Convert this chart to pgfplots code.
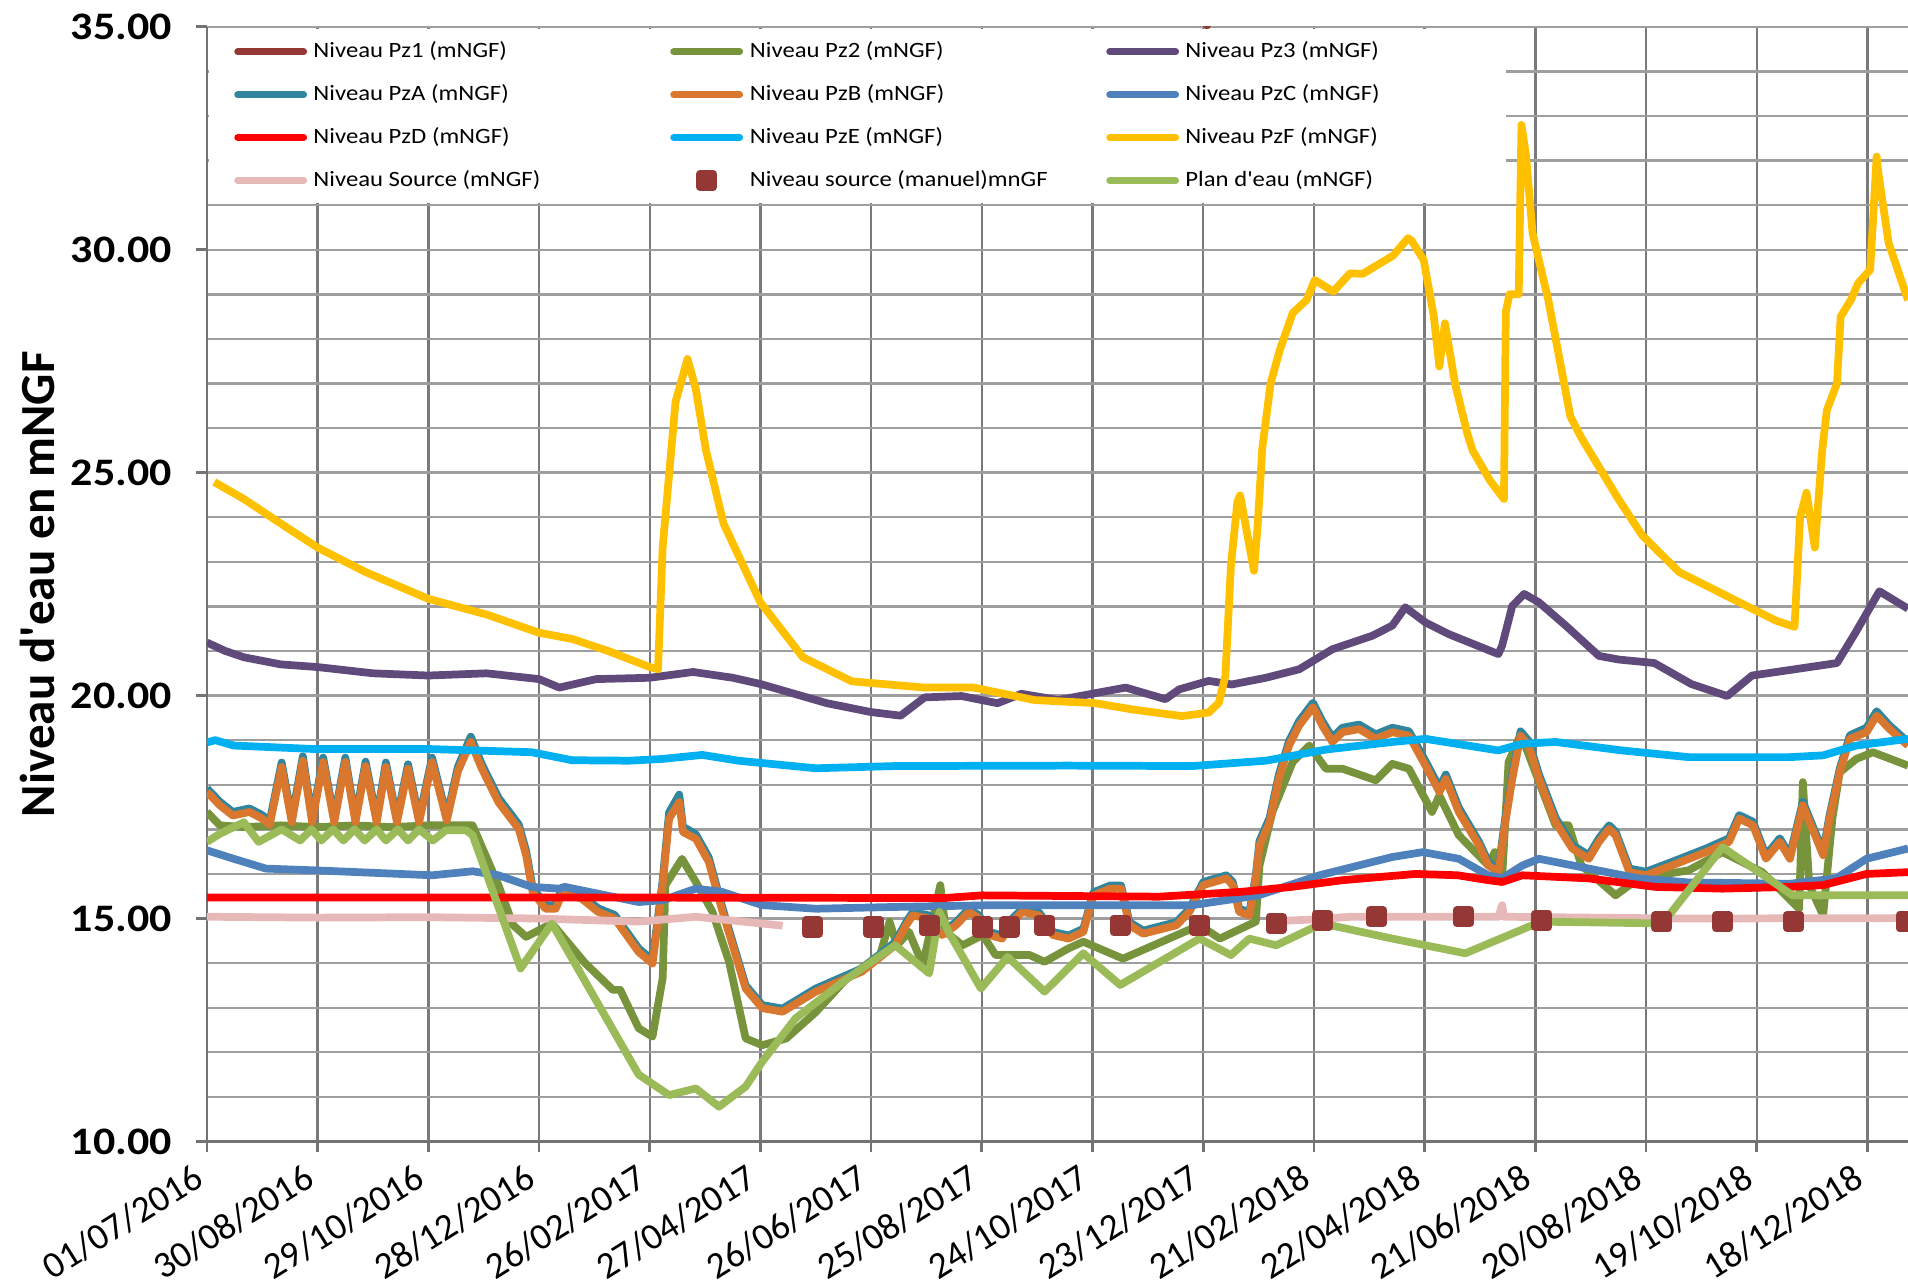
\documentclass[border=0pt]{standalone}
\usepackage{pgfplots}
\pgfplotsset{compat=1.18}
\usepackage{pgfplotstable}
\usepackage{fontspec}
\setmainfont{Carlito}[FakeStretch=1.13, Ligatures=TeXOff]
\newfontfamily\plainfont{Carlito}[Ligatures=TeXOff]
\definecolor{cPzI}{HTML}{953735}
\definecolor{cPzII}{HTML}{77933C}
\definecolor{cPzIII}{HTML}{604A7B}
\definecolor{cPzA}{HTML}{31859C}
\definecolor{cPzB}{HTML}{D9772F}
\definecolor{cPzC}{HTML}{4F81BD}
\definecolor{cPzD}{HTML}{FF0000}
\definecolor{cPzE}{HTML}{00B0F0}
\definecolor{cPzF}{HTML}{FFC000}
\definecolor{cSrc}{HTML}{E6B9B8}
\definecolor{cMan}{HTML}{953735}
\definecolor{cPlan}{HTML}{9BBB59}

\pgfplotstableread{
d A B
0 17.92 17.84
7 17.62 17.54
14 17.39 17.31
23 17.47 17.39
30 17.32 17.24
34 17.18 17.10
40.5 18.50 18.40
46 17.24 17.16
52 18.64 18.54
57 17.24 17.16
63 18.61 18.51
69 17.24 17.16
75 18.61 18.51
80.5 17.24 17.16
86 18.52 18.42
92 17.24 17.16
97 18.50 18.40
103 17.24 17.16
109 18.46 18.36
115 17.24 17.16
122 18.61 18.51
130 17.28 17.20
136 18.40 18.30
143 19.08 18.96
149 18.46 18.36
158 17.71 17.61
169 17.11 17.01
173 16.52 16.42
176.5 15.70 15.60
183.5 15.30 15.22
189 15.30 15.22
192.5 15.68 15.55
203 15.53 15.45
212 15.23 15.15
221 15.08 15.00
234 14.33 14.25
241.5 14.07 13.99
247 15.85 15.75
250.5 17.38 17.24
256 17.78 17.61
258 17.06 16.94
265 16.89 16.79
272 16.37 16.27
279.5 15.23 15.15
292 13.50 13.43
301 13.06 12.99
312 12.98 12.91
330 13.43 13.36
355 13.88 13.81
373 14.47 14.40
379 14.92 14.85
382.5 15.14 15.07
391.5 15.07 15.00
398.5 14.70 14.63
406 14.92 14.85
413 15.22 15.15
418.5 15.07 15.00
424 14.70 14.63
431 14.62 14.55
436.5 15.00 14.93
442 15.22 15.15
451 15.14 15.07
458.5 14.70 14.63
467 14.62 14.55
475 14.77 14.70
480.5 15.59 15.52
489.5 15.74 15.67
495.5 15.74 15.67
500 14.92 14.85
507.5 14.73 14.66
525.5 14.92 14.85
532.5 15.22 15.15
540 15.82 15.75
552.5 15.97 15.90
556 15.82 15.75
559.5 15.22 15.15
565 15.14 15.07
568.5 15.97 15.90
570.5 16.74 16.64
576 17.26 17.16
581 18.23 18.13
586.5 18.98 18.88
592 19.43 19.33
599.5 19.84 19.74
604.5 19.43 19.33
610 19.06 18.96
615.5 19.28 19.18
624.5 19.35 19.25
633.5 19.13 19.03
642.5 19.28 19.18
651.5 19.20 19.10
660.5 18.53 18.43
668 17.94 17.84
671.5 18.23 18.13
678.5 17.49 17.39
689.5 16.72 16.64
694.5 16.27 16.19
700 16.11 16.04
703.5 17.19 17.09
707.5 18.23 18.13
712 19.20 19.10
716.5 18.98 18.88
722 18.23 18.13
731 17.26 17.16
740 16.65 16.57
749 16.42 16.34
754.5 16.80 16.72
760 17.09 17.01
763.5 16.95 16.87
771 16.12 16.04
780 16.05 15.97
794 16.27 16.19
812.5 16.57 16.49
825 16.80 16.72
830.5 17.32 17.24
838 17.17 17.09
845 16.42 16.34
852.5 16.80 16.72
858 16.42 16.34
865 17.62 17.54
876 16.50 16.42
879.5 17.32 17.24
885 18.36 18.28
890.5 19.11 19.03
899.5 19.28 19.18
905 19.65 19.55
912 19.33 19.25
922 18.96 18.88
}\tabAB

\pgfplotsset{
  /pgfplots/legend image code/.code={\draw[#1,line width=2.5pt,line cap=round] (0pt,0pt) -- (24.8pt,0pt);},
  manlegend/.style={legend image code/.code={\path (0pt,0pt) (24.8pt,0pt); \draw[##1] plot coordinates {(12.4pt,0pt)};}},
}
\newcommand{\lb}[1]{\makebox[108.2pt][l]{#1}}

\begin{document}
\begin{tikzpicture}
\begin{axis}[
  scale only axis, width=637.9pt, height=418pt,
  xmin=0, xmax=922, ymin=10, ymax=35,
  axis x line*=bottom, axis y line*=left,
  xtick={0,60,...,900},
  xticklabels={01/07/2016,30/08/2016,29/10/2016,28/12/2016,26/02/2017,27/04/2017,26/06/2017,25/08/2017,24/10/2017,23/12/2017,21/02/2018,22/04/2018,21/06/2018,20/08/2018,19/10/2018,18/12/2018},
  ytick={10,15,...,35},
  yticklabels={10.00,15.00,20.00,25.00,30.00,35.00},
  minor ytick={11,12,13,14,16,17,18,19,21,22,23,24,26,27,28,29,31,32,33,34},
  grid=both,
  major grid style={black!45, line width=0.9pt},
  minor grid style={black!45, line width=0.9pt},
  major x grid style={black!52},
  major y grid style={black!38},
  minor y grid style={black!38},
  axis line style={black!55, line width=1pt},
  tick style={black!55, line width=1pt},
  tick align=outside, major tick length=4pt, minor tick length=0pt,
  yticklabel style={font=\bfseries\fontsize{14.6}{16}\selectfont, xshift=-5.7pt},
  xticklabel style={font=\plainfont\fontsize{14}{16}\selectfont, rotate=32, anchor=south east, inner sep=0pt},
  xticklabel shift=12.8pt,
  ylabel={Niveau d'eau en mNGF},
  ylabel style={font=\plainfont\bfseries\fontsize{18.4}{20}\selectfont, at={(axis description cs:0,0.5)}, anchor=south, inner sep=0pt, yshift=57pt},
  legend columns=3,
  legend cell align=left,
  legend style={at={(0,1)}, anchor=north west, xshift=0.6pt, yshift=-0.8pt,
    draw=none, fill=white, inner xsep=9.45pt, inner ysep=0.3pt,
    font=\fontsize{8.2}{9}\selectfont,
    /tikz/every even column/.append style={column sep=23pt},
    nodes={inner xsep=2.4pt, inner ysep=3.9pt, text height=6.5pt, text depth=1.8pt}},
  every axis plot/.append style={line width=2.9pt, line join=round},
  unbounded coords=jump,
]
\coordinate (sw) at (rel axis cs:0,0);
\coordinate (ne) at (rel axis cs:1,1);

% Pz1
\addplot[cPzI] coordinates {(536,35.8) (542,35.03) (548,35.8)};
\addlegendentry{\lb{Niveau Pz1 (mNGF)}}
% Pz2
\addplot[cPzII] coordinates {
(0,17.39) (7,17.09) (20,17.05) (40,17.09) (60,17.05) (80,17.09) (100,17.05) (120,17.09) (140,17.09) (144,17.09)
(158,15.75) (166,14.85) (173,14.59) (187,14.89) (205,14.0) (220,13.40) (224,13.40) (234,12.54) (241.5,12.35)
(247,13.66) (248.5,15.75) (257.5,16.34) (265,15.82) (274,15.15) (283,14.03) (292,12.31) (301,12.16) (314,12.31)
(330,12.90) (346,13.62) (365,14.2) (370,14.93) (374,14.40) (380.5,14.70) (388,13.96) (397.5,15.75) (400.5,14.70)
(409.5,14.40) (420.5,14.63) (427.5,14.18) (446,14.18) (454,14.03) (467,14.33) (475,14.48) (496.5,14.10)
(538,14.85) (549,14.55) (568.5,14.93) (570.5,16.19) (577.5,17.39) (588.5,18.51) (597.5,18.88) (606.5,18.36)
(615.5,18.36) (633.5,18.10) (642.5,18.47) (651.5,18.36) (664,17.39) (668,17.76) (678.5,16.87) (694.5,16.19)
(698,16.49) (702,15.90) (705.5,18.51) (711,19.03) (714.5,18.88) (731,17.09) (738,17.09) (745,16.19)
(763.5,15.52) (776,15.90) (803,16.08) (821.5,16.49) (843,16.04) (863,15.22) (865,18.06) (868.5,15.75)
(876,15.07) (881,17.24) (885,18.28) (894,18.58) (903,18.73) (922,18.43)};
\addlegendentry{\lb{Niveau Pz2 (mNGF)}}
% Pz3
\addplot[cPzIII] coordinates {
(0,21.19) (10,21.0) (20,20.86) (40,20.7) (60,20.64) (90,20.5) (120,20.45) (151.5,20.50) (180,20.37) (191,20.18)
(211,20.37) (240,20.40) (263.5,20.53) (285,20.4) (300,20.26) (336,19.83) (360,19.63) (376,19.55) (389,19.96)
(409,19.99) (428.5,19.83) (441.5,20.04) (461.5,19.90) (483.5,20.07) (498,20.18) (519.5,19.92) (527,20.14)
(543,20.33) (555.5,20.25) (574,20.40) (592,20.59) (610,21.04) (631.5,21.34) (642.5,21.57) (649.5,21.98)
(660.5,21.64) (673,21.38) (700,20.93) (702,21.12) (707.5,22.01) (714,22.28) (722,22.09) (736.5,21.57)
(754.5,20.89) (765,20.81) (784.5,20.73) (804.5,20.26) (824,19.99) (837.5,20.45) (860.5,20.59) (883.5,20.73)
(893.5,21.41) (906.5,22.34) (922,21.95)};
\addlegendentry{\lb{Niveau Pz3 (mNGF)}}
% PzA
\addplot[cPzA] table[x=d,y=A] {\tabAB};
\addlegendentry{\lb{Niveau PzA (mNGF)}}
% PzB
\addplot[cPzB] table[x=d,y=B] {\tabAB};
\addlegendentry{\lb{Niveau PzB (mNGF)}}
% PzC
\addplot[cPzC] coordinates {
(0,16.53) (14.5,16.34) (32,16.12) (59,16.08) (122,15.97) (144,16.06) (158,15.97) (176,15.71) (191,15.67)
(194,15.71) (234,15.37) (247,15.41) (265,15.67) (279,15.60) (301,15.30) (330,15.22) (373,15.26) (428,15.30)
(534,15.30) (570,15.52) (603,15.97) (642.5,16.38) (659,16.49) (678.5,16.34) (694.5,15.97) (702,15.90)
(713,16.19) (722,16.34) (749,16.12) (776,15.90) (803,15.81) (858,15.78) (883,15.90) (899.5,16.34) (922,16.57)};
\addlegendentry{\lb{Niveau PzC (mNGF)}}
% PzD
\addplot[cPzD] coordinates {
(0,15.47) (234,15.47) (400,15.46) (420,15.52) (516,15.49) (561,15.60) (588,15.71) (615.5,15.86) (655,16.00)
(678,15.97) (694.5,15.86) (702,15.82) (713,15.97) (749,15.90) (785,15.71) (821.5,15.67) (858,15.71)
(876,15.75) (899.5,16.00) (922,16.04)};
\addlegendentry{\lb{Niveau PzD (mNGF)}}
% PzE
\addplot[cPzE] coordinates {
(0,18.95) (4.5,19.00) (14.5,18.88) (59,18.80) (122,18.80) (176,18.73) (198,18.55) (229,18.54) (247,18.58)
(268.5,18.67) (288,18.54) (330,18.37) (373,18.42) (467,18.43) (534,18.42) (574,18.54) (606.5,18.79)
(642.5,18.96) (660.5,19.03) (700,18.77) (713,18.92) (731,18.96) (767,18.77) (803,18.62) (858,18.62)
(876,18.66) (894,18.88) (922,19.03)};
\addlegendentry{\lb{Niveau PzE (mNGF)}}
% PzF
\addplot[cPzF] coordinates {
(4,24.79) (20,24.41) (40,23.86) (60,23.32) (86,22.77) (120,22.17) (151.5,21.82) (180,21.41) (198,21.27)
(217.5,21.00) (240,20.64) (244.5,20.59) (247,23.32) (254,26.59) (260.5,27.55) (265,26.87) (270.5,25.50)
(280,23.86) (300,22.09) (323,20.86) (349.5,20.32) (389,20.18) (415.5,20.18) (448.5,19.90) (481.5,19.83)
(501.5,19.69) (528.5,19.54) (543,19.62) (548.5,19.84) (552,20.44) (555,22.91) (558.5,24.34) (560,24.49)
(564,23.59) (567.5,22.80) (569.5,23.81) (572,25.54) (576.5,27.00) (581.5,27.75) (588.5,28.58) (596,28.87)
(600.5,29.32) (610.5,29.06) (619.5,29.47) (626.5,29.46) (643,29.87) (651,30.26) (653,30.20) (659.5,29.77)
(665,28.50) (668,27.38) (671,28.35) (676.5,27.00) (683,25.90) (686,25.50) (695.5,24.82) (703,24.41)
(704,28.60) (706,29.00) (711,29.00) (712.5,32.80) (715,32.10) (718.5,30.37) (727,28.88) (739,26.26)
(745,25.78) (765,24.41) (778,23.59) (798,22.77) (824,22.23) (850.5,21.68) (860.5,21.54) (863.5,24.00)
(867,24.55) (871.5,23.32) (875.5,25.5) (878,26.4) (883.5,27.0) (885.5,28.50) (891,28.87) (895,29.25)
(901.5,29.55) (905,32.09) (906,31.70) (911.5,30.15) (922,28.87)};
\addlegendentry{\lb{Niveau PzF (mNGF)}}
% Source
\addplot[cSrc] coordinates {
(0,15.04) (60,15.02) (120,15.03) (180,15.0) (234,14.93) (265,15.04) (312,14.84) (313,nan)
(574,14.93) (600,14.98) (620,15.04) (700,15.04) (702,15.30) (703,15.04) (800,15.0) (922,15.01)};
\addlegendentry{\lb{Niveau Source (mNGF)}}
% manuel
\addplot[cMan, only marks, mark=square*, mark size=2.5pt, manlegend]
coordinates {
(328,14.81) (361.5,14.81) (391.5,14.85) (420.5,14.81) (435,14.81) (454,14.85) (495,14.85) (538,14.85)
(579.5,14.89) (604.5,14.96) (634,15.04) (681,15.04) (723.5,14.96) (788.5,14.93) (821.5,14.93) (860,14.93) (921,14.93)};
\addlegendentry{\lb{Niveau source (manuel)mnGF}}
% Plan d'eau
\addplot[cPlan] coordinates {
(0,16.72) (7,16.90) (20,17.16) (28,16.72) (40.5,17.00) (50.5,16.75) (56.7,17.00) (62,16.75) (68.4,17.00)
(74,16.75) (80,17.00) (85.5,16.75) (92,17.00) (97,16.75) (103.5,17.00) (109,16.75) (115,17.00) (122.5,16.75)
(129.5,16.98) (140.5,16.98) (144,16.87) (170,13.88) (187,14.89) (234,11.50) (250.5,11.04) (265,11.19)
(277.5,10.78) (292,11.23) (301,11.79) (319,12.76) (346,13.62) (373,14.40) (391.5,13.77) (397,15.15)
(402,14.70) (419.5,13.43) (434,14.14) (454,13.36) (475,14.22) (495,13.51) (538,14.55) (555,14.18)
(565,14.55) (579.5,14.40) (604.5,14.89) (642.5,14.55) (682,14.22) (723,14.93) (789,14.89) (821.5,16.60)
(859.5,15.52) (922,15.52)};
\addlegendentry{\lb{Plan d'eau (mNGF)}}
\end{axis}
\pgfresetboundingbox
\path[use as bounding box] ([shift={(-77.6pt,-54.6pt)}]sw) rectangle ([shift={(0pt,10.05pt)}]ne);
\end{tikzpicture}
\end{document}
